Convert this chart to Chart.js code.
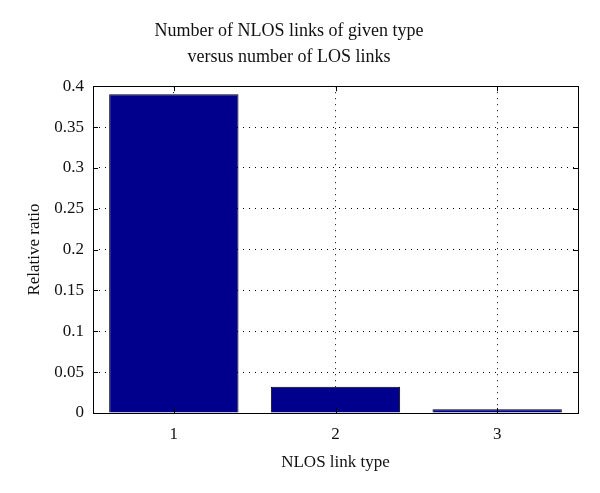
<!DOCTYPE html>
<html>
<head>
<meta charset="utf-8">
<script src="https://cdn.jsdelivr.net/npm/chart.js@4"></script>
<style>
  html, body { margin: 0; padding: 0; background: #fff; }
  #wrap { width: 600px; height: 493px; }
</style>
</head>
<body>
<div id="wrap"><canvas id="chart"></canvas></div>
<script>
// data
const linkTypes = ['1', '2', '3'];
const relativeRatio = [0.390, 0.032, 0.0045];
const yTicks = [0, 0.05, 0.1, 0.15, 0.2, 0.25, 0.3, 0.35, 0.4];

const serif = '"Liberation Serif", "DejaVu Serif", serif';

// frame round the plot area plus inward tick marks on all four sides
const framePlugin = {
  id: 'frame',
  afterDatasetsDraw(chart) {
    const { ctx, chartArea: a, scales } = chart;
    ctx.save();
    ctx.strokeStyle = '#000';
    ctx.lineWidth = 1;
    ctx.beginPath();
    yTicks.forEach(v => {
      const y = Math.round(scales.y.getPixelForValue(v)) + 0.5;
      ctx.moveTo(a.left, y); ctx.lineTo(a.left + 5, y);
      ctx.moveTo(a.right, y); ctx.lineTo(a.right - 5, y);
    });
    linkTypes.forEach((c, i) => {
      const x = Math.round(scales.x.getPixelForValue(i)) + 0.5;
      ctx.moveTo(x, a.bottom); ctx.lineTo(x, a.bottom - 5);
      ctx.moveTo(x, a.top); ctx.lineTo(x, a.top + 5);
    });
    ctx.stroke();
    ctx.strokeRect(Math.round(a.left) + 0.5, Math.round(a.top) + 0.5,
      Math.round(a.right - a.left), Math.round(a.bottom - a.top));
    ctx.restore();
  }
};

new Chart(document.getElementById('chart'), {
  type: 'bar',
  data: {
    labels: linkTypes,
    datasets: [{
      data: relativeRatio,
      backgroundColor: '#00008c',
      borderColor: '#000',
      borderWidth: 1,
      categoryPercentage: 1.0,
      barPercentage: 0.8
    }]
  },
  options: {
    responsive: true,
    maintainAspectRatio: false,
    animation: false,
    layout: { padding: { top: 0, right: 22, bottom: 0, left: 0 } },
    plugins: {
      legend: { display: false },
      tooltip: { enabled: false },
      title: {
        display: true,
        text: ['Number of NLOS links of given type', 'versus number of LOS links'],
        color: '#111',
        font: { family: serif, size: 18, weight: 'normal', lineHeight: 1.45 },
        padding: { top: 18, bottom: 16 }
      }
    },
    scales: {
      x: {
        grid: {
          offset: false,
          color: '#000',
          lineWidth: 1,
          tickLength: 0,
          drawTicks: false
        },
        border: { display: false, dash: [1, 5] },
        ticks: {
          color: '#111',
          font: { family: serif, size: 17 },
          padding: 11
        },
        title: {
          display: true,
          text: 'NLOS link type',
          color: '#111',
          font: { family: serif, size: 17 },
          padding: { top: 0, bottom: 20 }
        },
        afterFit(scale) { scale.height = 80; }
      },
      y: {
        min: 0,
        max: 0.4,
        afterBuildTicks(scale) { scale.ticks = yTicks.map(v => ({ value: v })); },
        grid: {
          color: '#000',
          lineWidth: 1,
          drawTicks: false
        },
        border: { display: false, dash: [1, 5] },
        ticks: {
          color: '#111',
          font: { family: serif, size: 17 },
          padding: 9,
          callback: v => String(Math.round(v * 100) / 100)
        },
        title: {
          display: true,
          text: 'Relative ratio',
          color: '#111',
          font: { family: serif, size: 17 },
          padding: { top: 24, bottom: 0 }
        },
        afterFit(scale) { scale.width = 93; }
      }
    }
  },
  plugins: [framePlugin]
});
</script>
</body>
</html>
